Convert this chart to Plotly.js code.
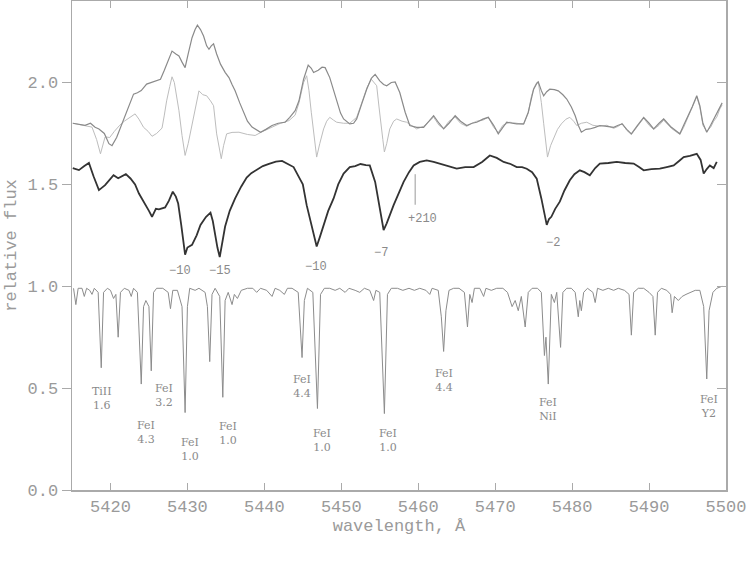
<!DOCTYPE html>
<html>
<head>
<meta charset="utf-8">
<script src="https://cdn.plot.ly/plotly-3.0.1.min.js"></script>
<style>
  html, body { margin: 0; padding: 0; background: #fff; }
  #chart { width: 749px; height: 561px; }
</style>
</head>
<body>
<div id="chart"></div>
<script>
// Comparison spectrum (continuum ~1.0)
const refWave = [5415.2, 5415.5, 5415.8, 5416.3, 5416.6, 5416.9, 5417.3, 5417.6, 5417.9, 5418.4,
  5418.8, 5419.1, 5419.6, 5420.0, 5420.4, 5420.7, 5421.0, 5421.3, 5421.8, 5422.4,
  5422.7, 5423.0, 5423.5, 5424.0, 5424.3, 5424.6, 5425.0, 5425.3, 5425.6, 5426.0,
  5426.8, 5427.5, 5427.8, 5428.1, 5428.7, 5429.3, 5429.7, 5430.0, 5430.3, 5431.0,
  5431.5, 5432.3, 5432.6, 5432.9, 5433.2, 5433.6, 5434.2, 5434.6, 5434.9, 5435.3,
  5435.8, 5436.1, 5436.5, 5437.0, 5437.8, 5438.5, 5439.0, 5439.5, 5440.3, 5441.0,
  5441.4, 5442.0, 5442.6, 5443.0, 5443.6, 5444.4, 5444.9, 5445.2, 5445.6, 5446.3,
  5446.9, 5447.3, 5447.8, 5448.5, 5449.2, 5449.8, 5450.5, 5451.0, 5451.8, 5452.4,
  5453.0, 5453.7, 5454.2, 5454.5, 5455.0, 5455.6, 5456.0, 5456.5, 5457.3, 5458.0,
  5458.8, 5459.5, 5460.2, 5461.0, 5461.5, 5461.8, 5462.6, 5463.0, 5463.3, 5463.6,
  5464.0, 5464.6, 5465.3, 5466.0, 5466.4, 5466.7, 5467.0, 5467.3, 5468.0, 5468.5,
  5468.8, 5469.5, 5470.2, 5471.0, 5471.6, 5472.2, 5472.6, 5473.0, 5473.4, 5473.9,
  5474.3, 5474.8, 5475.5, 5476.0, 5476.4, 5476.6, 5476.9, 5477.3, 5477.7, 5478.0,
  5478.5, 5478.8, 5479.3, 5479.9, 5480.4, 5480.8, 5481.0, 5481.2, 5481.5, 5482.0,
  5482.7, 5483.0, 5483.3, 5484.0, 5484.7, 5485.4, 5486.0, 5486.8, 5487.4, 5487.7,
  5488.0, 5488.6, 5489.3, 5490.0, 5490.5, 5490.8, 5491.1, 5491.6, 5492.3, 5492.8,
  5493.0, 5493.3, 5493.8, 5494.3, 5494.8, 5495.4, 5496.0, 5496.6, 5497.1, 5497.5,
  5497.8, 5498.3, 5498.8, 5499.5];
const refFlux = [0.99, 0.91, 0.99, 0.99, 0.95, 0.99, 0.98, 0.96, 0.99, 0.97,
  0.60, 0.97, 0.99, 0.98, 0.94, 0.96, 0.75, 0.97, 0.99, 0.98,
  0.95, 0.99, 0.97, 0.52, 0.90, 0.93, 0.90, 0.585, 0.97, 0.99,
  0.99, 0.97, 0.89, 0.98, 0.98, 0.90, 0.38, 0.90, 0.99, 0.98,
  0.99, 0.97, 0.90, 0.63, 0.96, 0.99, 0.95, 0.455, 0.93, 0.97,
  0.91, 0.96, 0.94, 0.98, 0.99, 0.99, 0.97, 0.99, 0.98, 0.95,
  0.99, 0.98, 0.96, 0.99, 0.99, 0.97, 0.65, 0.93, 0.99, 0.97,
  0.40, 0.96, 0.99, 0.99, 0.98, 0.99, 0.97, 0.99, 0.98, 0.97,
  0.99, 0.98, 0.93, 0.98, 0.97, 0.375, 0.96, 0.99, 0.99, 0.98,
  0.99, 0.98, 0.99, 0.98, 0.96, 0.99, 0.98, 0.85, 0.68, 0.88,
  0.98, 0.99, 0.99, 0.97, 0.80, 0.96, 0.92, 0.99, 0.99, 0.95,
  0.99, 0.98, 0.99, 0.99, 0.97, 0.90, 0.93, 0.88, 0.95, 0.80,
  0.97, 0.99, 0.99, 0.97, 0.66, 0.75, 0.52, 0.96, 0.92, 0.97,
  0.70, 0.97, 0.99, 0.99, 0.97, 0.85, 0.93, 0.88, 0.97, 0.99,
  0.97, 0.92, 0.99, 0.98, 0.99, 0.98, 0.99, 0.98, 0.96, 0.76,
  0.97, 0.99, 0.99, 0.97, 0.95, 0.76, 0.97, 0.99, 0.98, 0.96,
  0.87, 0.95, 0.93, 0.95, 0.96, 0.97, 0.98, 0.98, 0.90, 0.545,
  0.88, 0.97, 0.99, 1.00];

// Star spectrum, shifted up (thick dark line)
const starWave = [5415.1, 5415.9, 5416.6, 5417.2, 5417.8, 5418.5, 5419.3, 5419.9, 5420.4, 5421.0,
  5421.5, 5422.0, 5422.6, 5423.2, 5423.7, 5424.5, 5425.0, 5425.4, 5425.9, 5426.3,
  5427.1, 5427.6, 5428.1, 5428.5, 5428.8, 5429.2, 5429.5, 5429.7, 5430.0, 5430.6,
  5431.2, 5431.7, 5432.4, 5433.0, 5433.3, 5433.6, 5433.9, 5434.2, 5434.5, 5434.9,
  5435.5, 5436.2, 5437.0, 5437.7, 5438.3, 5439.0, 5439.8, 5440.6, 5441.5, 5442.3,
  5443.0, 5443.8, 5444.6, 5445.0, 5445.5, 5446.0, 5446.4, 5446.8, 5447.2, 5447.7,
  5448.3, 5449.0, 5449.6, 5450.3, 5451.1, 5451.8, 5452.5, 5453.2, 5453.7, 5454.4,
  5455.0, 5455.3, 5455.5, 5455.9, 5456.3, 5456.8, 5457.5, 5458.1, 5458.8, 5459.4,
  5460.2, 5461.1, 5462.0, 5462.8, 5463.9, 5465.0, 5466.1, 5467.2, 5468.3, 5469.3,
  5470.2, 5471.1, 5472.0, 5472.8, 5473.5, 5474.1, 5474.8, 5475.4, 5476.0, 5476.4,
  5476.7, 5477.0, 5477.3, 5477.8, 5478.4, 5479.0, 5479.7, 5480.3, 5481.0, 5481.6,
  5482.3, 5483.0, 5483.6, 5484.7, 5485.8, 5486.9, 5488.0, 5488.7, 5489.3, 5490.3,
  5491.4, 5492.3, 5493.2, 5493.9, 5494.5, 5495.3, 5496.2, 5496.7, 5497.1, 5497.5,
  5497.9, 5498.4, 5498.8];
const starFlux = [1.58, 1.57, 1.59, 1.605, 1.54, 1.472, 1.496, 1.52, 1.545, 1.53,
  1.54, 1.55, 1.529, 1.50, 1.455, 1.406, 1.37, 1.341, 1.38, 1.377,
  1.387, 1.42, 1.464, 1.44, 1.406, 1.30, 1.195, 1.155, 1.19, 1.203,
  1.25, 1.301, 1.34, 1.361, 1.32, 1.244, 1.19, 1.143, 1.20, 1.293,
  1.37, 1.431, 1.49, 1.533, 1.555, 1.572, 1.59, 1.601, 1.612, 1.615,
  1.60, 1.585, 1.528, 1.50, 1.398, 1.32, 1.252, 1.195, 1.24, 1.301,
  1.37, 1.431, 1.50, 1.553, 1.585, 1.59, 1.60, 1.595, 1.593, 1.512,
  1.382, 1.31, 1.276, 1.309, 1.35, 1.398, 1.46, 1.512, 1.56, 1.593,
  1.61, 1.618, 1.61, 1.602, 1.59, 1.577, 1.585, 1.585, 1.61, 1.642,
  1.63, 1.61, 1.60, 1.585, 1.585, 1.577, 1.56, 1.528, 1.431, 1.35,
  1.301, 1.33, 1.341, 1.38, 1.415, 1.47, 1.52, 1.55, 1.569, 1.56,
  1.545, 1.58, 1.602, 1.605, 1.61, 1.605, 1.602, 1.585, 1.569, 1.575,
  1.577, 1.585, 1.593, 1.615, 1.634, 1.64, 1.65, 1.62, 1.553, 1.575,
  1.593, 1.58, 1.61];

// Upper profile, broad emission (darker grey)
const broadWave = [5415.1, 5415.9, 5416.7, 5417.4, 5418.0, 5418.5, 5419.2, 5419.8, 5420.2, 5420.8,
  5421.5, 5422.2, 5423.0, 5423.5, 5424.0, 5424.7, 5425.4, 5426.0, 5426.5, 5427.0,
  5427.5, 5428.0, 5428.5, 5428.9, 5429.3, 5429.7, 5430.1, 5430.6, 5431.0, 5431.3,
  5431.7, 5432.1, 5432.5, 5432.8, 5433.1, 5433.4, 5433.8, 5434.3, 5434.9, 5435.4,
  5435.8, 5436.2, 5436.8, 5437.3, 5437.8, 5438.4, 5439.0, 5439.5, 5440.2, 5441.0,
  5441.8, 5442.7, 5443.3, 5444.0, 5444.5, 5445.1, 5445.7, 5446.1, 5446.4, 5447.0,
  5447.5, 5447.9, 5448.5, 5449.0, 5449.4, 5449.9, 5450.3, 5451.1, 5451.6, 5452.0,
  5452.7, 5453.3, 5453.9, 5454.4, 5455.0, 5455.5, 5455.9, 5456.5, 5457.0, 5457.6,
  5458.3, 5458.9, 5459.8, 5460.7, 5461.4, 5462.0, 5462.7, 5463.3, 5464.0, 5464.8,
  5465.5, 5466.3, 5467.0, 5467.6, 5468.4, 5469.1, 5469.8, 5470.4, 5471.0, 5471.5,
  5472.2, 5472.8, 5473.7, 5474.3, 5474.7, 5475.0, 5475.4, 5475.6, 5476.0, 5476.3,
  5476.7, 5477.1, 5477.7, 5478.2, 5478.8, 5479.3, 5479.9, 5480.4, 5480.8, 5481.2,
  5481.8, 5482.3, 5483.0, 5483.6, 5484.5, 5485.4, 5486.0, 5486.5, 5487.1, 5487.7,
  5488.5, 5489.3, 5490.0, 5490.6, 5491.3, 5491.9, 5492.9, 5494.0, 5494.5, 5494.9,
  5495.6, 5496.2, 5496.6, 5497.0, 5497.5, 5498.0, 5498.4, 5498.8, 5499.2, 5499.5];
const broadFlux = [1.80, 1.794, 1.79, 1.80, 1.78, 1.772, 1.75, 1.70, 1.69, 1.73,
  1.80, 1.87, 1.943, 1.95, 1.96, 1.992, 2.00, 2.01, 2.016, 2.06,
  2.11, 2.154, 2.14, 2.13, 2.10, 2.073, 2.14, 2.22, 2.26, 2.281,
  2.26, 2.228, 2.18, 2.163, 2.18, 2.19, 2.14, 2.09, 2.05, 2.024,
  1.99, 1.959, 1.90, 1.854, 1.81, 1.781, 1.765, 1.756, 1.77, 1.789,
  1.80, 1.805, 1.829, 1.862, 1.91, 2.016, 2.085, 2.07, 2.049, 2.06,
  2.075, 2.073, 2.024, 1.96, 1.902, 1.85, 1.821, 1.797, 1.80, 1.821,
  1.90, 1.967, 2.02, 2.04, 2.008, 1.99, 1.984, 2.00, 2.003, 1.951,
  1.854, 1.789, 1.78, 1.78, 1.81, 1.837, 1.80, 1.772, 1.80, 1.837,
  1.81, 1.789, 1.80, 1.805, 1.82, 1.829, 1.79, 1.748, 1.78, 1.805,
  1.80, 1.797, 1.797, 1.854, 1.92, 1.967, 1.995, 2.003, 1.96, 1.935,
  1.955, 1.967, 1.965, 1.959, 1.94, 1.919, 1.88, 1.837, 1.79, 1.756,
  1.77, 1.772, 1.78, 1.789, 1.785, 1.78, 1.79, 1.797, 1.77, 1.748,
  1.79, 1.829, 1.80, 1.772, 1.80, 1.821, 1.78, 1.748, 1.79, 1.821,
  1.88, 1.935, 1.886, 1.80, 1.756, 1.79, 1.821, 1.85, 1.878, 1.90];

// Upper profile, P Cyg type (light grey)
const pcygWave = [5415.1, 5415.9, 5416.8, 5417.6, 5418.2, 5418.7, 5419.3, 5419.9, 5420.5, 5421.2,
  5421.8, 5422.5, 5423.2, 5423.7, 5424.3, 5424.9, 5425.4, 5426.0, 5426.7, 5427.0,
  5427.3, 5427.7, 5428.0, 5428.3, 5428.6, 5428.9, 5429.3, 5429.7, 5430.1, 5430.6,
  5431.0, 5431.5, 5432.0, 5432.5, 5433.0, 5433.4, 5433.8, 5434.1, 5434.4, 5434.7,
  5435.1, 5435.8, 5436.7, 5437.8, 5438.8, 5439.8, 5441.0, 5442.1, 5443.2, 5444.0,
  5444.5, 5445.1, 5445.5, 5445.8, 5446.1, 5446.5, 5446.8, 5447.2, 5447.7, 5448.1,
  5448.5, 5449.0, 5449.4, 5450.3, 5451.1, 5452.0, 5452.8, 5453.4, 5453.9, 5454.3,
  5454.6, 5454.9, 5455.1, 5455.4, 5455.6, 5455.9, 5456.3, 5456.8, 5457.2, 5457.9,
  5458.5, 5459.2, 5459.8, 5460.7, 5461.4, 5462.0, 5462.7, 5463.3, 5464.0, 5464.8,
  5465.5, 5466.3, 5467.0, 5467.6, 5468.4, 5469.1, 5469.8, 5470.4, 5471.0, 5471.9,
  5472.8, 5473.7, 5474.3, 5474.7, 5475.0, 5475.4, 5475.6, 5475.8, 5476.0, 5476.3,
  5476.5, 5476.8, 5477.2, 5477.6, 5478.1, 5478.6, 5479.2, 5479.7, 5480.2, 5480.6,
  5481.2, 5481.9, 5482.7, 5483.6, 5484.5, 5485.4, 5486.0, 5486.5, 5487.1, 5487.7,
  5488.5, 5489.3, 5490.0, 5490.6, 5491.3, 5491.9, 5492.9, 5494.0, 5494.5, 5494.9,
  5495.6, 5496.2, 5496.6, 5497.0, 5497.5, 5498.0, 5498.4, 5498.8, 5499.2, 5499.5];
const pcygFlux = [1.80, 1.794, 1.79, 1.781, 1.72, 1.650, 1.733, 1.73, 1.76, 1.79,
  1.81, 1.83, 1.846, 1.82, 1.78, 1.76, 1.736, 1.75, 1.776, 1.84,
  1.91, 1.98, 2.028, 2.00, 1.93, 1.862, 1.74, 1.642, 1.70, 1.797,
  1.88, 1.959, 1.94, 1.935, 1.91, 1.886, 1.748, 1.68, 1.626, 1.69,
  1.748, 1.755, 1.756, 1.745, 1.740, 1.76, 1.781, 1.80, 1.813, 1.84,
  1.90, 2.0, 2.033, 1.96, 1.854, 1.72, 1.634, 1.70, 1.772, 1.81,
  1.829, 1.815, 1.805, 1.80, 1.80, 1.829, 1.91, 1.98, 2.016, 2.00,
  1.984, 1.88, 1.805, 1.72, 1.659, 1.70, 1.772, 1.81, 1.821, 1.81,
  1.805, 1.785, 1.772, 1.785, 1.81, 1.83, 1.79, 1.775, 1.81, 1.83,
  1.80, 1.785, 1.80, 1.81, 1.815, 1.83, 1.78, 1.755, 1.79, 1.805,
  1.80, 1.795, 1.85, 1.93, 1.97, 2.00, 2.003, 1.96, 1.902, 1.80,
  1.740, 1.634, 1.69, 1.724, 1.77, 1.797, 1.82, 1.829, 1.81, 1.789,
  1.80, 1.805, 1.79, 1.785, 1.79, 1.775, 1.785, 1.80, 1.765, 1.745,
  1.785, 1.825, 1.79, 1.77, 1.79, 1.815, 1.775, 1.745, 1.78, 1.815,
  1.87, 1.93, 1.88, 1.79, 1.76, 1.78, 1.81, 1.83, 1.87, 1.89];

// Tick marker for the +210 component
const markWave = [5459.6, 5459.6];
const markFlux = [1.55, 1.40];

// Radial velocity labels under the star spectrum
const velText = ["\u221210", "\u221215", "\u221210", "\u22127", "+210", "\u22122"];
const velWave = [5429.0, 5434.2, 5446.7, 5455.2, 5460.6, 5477.5];
const velFlux = [1.073, 1.073, 1.093, 1.161, 1.332, 1.21];

// Line identifications (ion, excitation potential)
const idText = ["TiII<br>1.6", "FeI<br>4.3", "FeI<br>3.2", "FeI<br>1.0", "FeI<br>1.0", "FeI<br>4.4",
  "FeI<br>1.0", "FeI<br>1.0", "FeI<br>4.4", "FeI<br>NiI", "FeI<br>Y2"];
const idWave = [5418.9, 5424.6, 5427.0, 5430.3, 5435.3, 5444.9, 5447.5, 5456.1, 5463.3, 5476.9, 5497.8];
const idFlux = [0.449, 0.283, 0.463, 0.20, 0.278, 0.507, 0.244, 0.244, 0.537, 0.395, 0.41];

const AXIS = "#aaaaaa";
const TXT = "#9a9a9a";

const traces = [
  { x: refWave, y: refFlux, type: "scatter", mode: "lines",
    line: { color: "#8c8c8c", width: 1 } },
  { x: pcygWave, y: pcygFlux, type: "scatter", mode: "lines",
    line: { color: "#bdbdbd", width: 1 } },
  { x: broadWave, y: broadFlux, type: "scatter", mode: "lines",
    line: { color: "#8a8a8a", width: 1.2 } },
  { x: starWave, y: starFlux, type: "scatter", mode: "lines",
    line: { color: "#333333", width: 1.8 } },
  { x: markWave, y: markFlux, type: "scatter", mode: "lines",
    line: { color: "#9a9a9a", width: 1 } },
];

const annotations = [];
for (let i = 0; i < velText.length; i++) {
  annotations.push({ x: velWave[i], y: velFlux[i], xref: "x", yref: "y", text: velText[i],
    showarrow: false, font: { family: "Liberation Mono, monospace", size: 12, color: "#8a8a8a" } });
}
for (let i = 0; i < idText.length; i++) {
  annotations.push({ x: idWave[i], y: idFlux[i], xref: "x", yref: "y", text: idText[i],
    showarrow: false, align: "center",
    font: { family: "DejaVu Serif, serif", size: 11, color: "#8a8a8a" } });
}

const layout = {
  width: 749, height: 561,
  paper_bgcolor: "#ffffff", plot_bgcolor: "#ffffff",
  margin: { l: 72, r: 23, t: 1, b: 71 },
  showlegend: false,
  font: { family: "Liberation Mono, monospace", color: TXT },
  xaxis: {
    range: [5415, 5500], tickvals: [5420, 5430, 5440, 5450, 5460, 5470, 5480, 5490, 5500],
    ticks: "inside", ticklen: 7, tickcolor: AXIS, mirror: "ticks",
    showline: true, linecolor: AXIS, linewidth: 1.5, showgrid: false, zeroline: false,
    tickfont: { size: 17, color: TXT },
    title: { text: "wavelength, \u00c5", font: { size: 17, color: TXT }, standoff: 1 },
  },
  yaxis: {
    range: [0, 2.4], tickvals: [0, 0.5, 1.0, 1.5, 2.0], ticktext: ["0.0", "0.5", "1.0", "1.5", "2.0"],
    ticks: "outside", ticklen: 9, tickcolor: AXIS, mirror: true,
    showline: true, linecolor: AXIS, linewidth: 1.5, showgrid: false, zeroline: false,
    tickfont: { size: 17, color: TXT },
    title: { text: "relative flux", font: { size: 17, color: TXT }, standoff: 6 },
  },
  yaxis2: {
    range: [0, 2.4], overlaying: "y", side: "right", tickvals: [0, 0.5, 1.0, 1.5, 2.0],
    ticks: "inside", ticklen: 9, tickcolor: AXIS, showticklabels: false,
    showline: false, showgrid: false, zeroline: false,
  },
  annotations,
};

// invisible trace to anchor the right-hand tick axis
traces.push({ x: [5415], y: [0], yaxis: "y2", type: "scatter", mode: "markers",
  marker: { opacity: 0 }, hoverinfo: "skip" });

Plotly.newPlot("chart", traces, layout, { displayModeBar: false, staticPlot: true });
</script>
</body>
</html>
